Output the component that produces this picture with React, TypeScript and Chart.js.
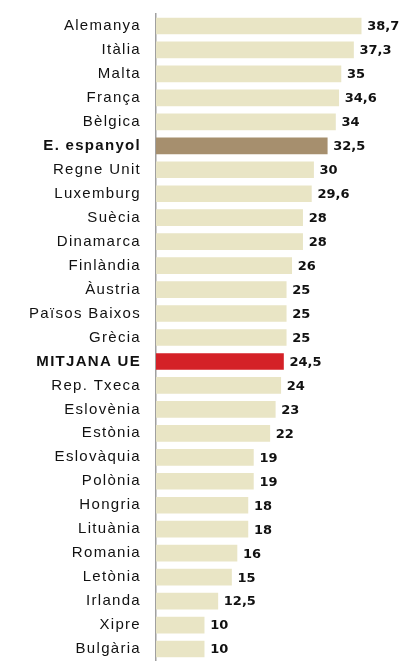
import React, { useEffect, useRef } from "react";
import { Chart, registerables } from "chart.js";

Chart.register(...registerables);

const categories = [
  "Alemanya", "Itàlia", "Malta", "França", "Bèlgica", "E. espanyol", "Regne Unit",
  "Luxemburg", "Suècia", "Dinamarca", "Finlàndia", "Àustria", "Països Baixos", "Grècia",
  "MITJANA UE", "Rep. Txeca", "Eslovènia", "Estònia", "Eslovàquia", "Polònia", "Hongria",
  "Lituània", "Romania", "Letònia", "Irlanda", "Xipre", "Bulgària",
];

const values = [
  38.7, 37.3, 35, 34.6, 34, 32.5, 30, 29.6, 28, 28, 26, 25, 25, 25,
  24.5, 24, 23, 22, 19, 19, 18, 18, 16, 15, 12.5, 10, 10,
];

const boldCategories = ["E. espanyol", "MITJANA UE"];

const BEIGE = "#e9e5c5";
const BROWN = "#a68f6e";
const RED = "#d42127";

function barColor(label: string): string {
  if (label === "MITJANA UE") return RED;
  if (label === "E. espanyol") return BROWN;
  return BEIGE;
}

const spacingPlugin = {
  id: "labelSpacing",
  beforeDraw(chart: any) {
    chart.ctx.letterSpacing = "1.3px";
  },
  beforeDatasetsDraw(chart: any) {
    chart.ctx.letterSpacing = "0px";
  },
};

const valueLabelPlugin = {
  id: "valueLabels",
  afterDatasetsDraw(chart: any) {
    const ctx = chart.ctx;
    const meta = chart.getDatasetMeta(0);
    ctx.save();
    ctx.letterSpacing = "0px";
    ctx.font = "bold 13px 'DejaVu Sans', sans-serif";
    ctx.fillStyle = "#111111";
    ctx.textAlign = "left";
    ctx.textBaseline = "middle";
    meta.data.forEach((bar: any, i: number) => {
      const txt = String(values[i]).replace(".", ",");
      ctx.fillText(txt, bar.x + 6, bar.y + 1);
    });
    ctx.restore();
  },
};

export default function App() {
  const canvasRef = useRef<HTMLCanvasElement | null>(null);

  useEffect(() => {
    document.body.style.margin = "0";
    const canvas = canvasRef.current;
    if (!canvas) return;
    const chart = new Chart(canvas, {
      type: "bar",
      data: {
        labels: categories,
        datasets: [
          {
            data: values,
            backgroundColor: categories.map(barColor),
            borderWidth: 0,
            barThickness: 16,
          },
        ],
      },
      options: {
        indexAxis: "y",
        responsive: false,
        animation: false,
        maintainAspectRatio: false,
        layout: { padding: { top: 14, bottom: 0, left: 0, right: 8 } },
        plugins: {
          legend: { display: false },
          tooltip: { enabled: false },
        },
        scales: {
          x: {
            display: false,
            min: 1.2,
            max: 44.7,
          },
          y: {
            afterFit(scale: any) {
              scale.width = 156;
              scale.paddingTop = 0;
              scale.paddingBottom = 0;
            },
            grid: { display: false, drawTicks: false },
            border: { display: true, color: "#a0a0a0", width: 1.5 },
            ticks: {
              padding: 15,
              color: "#111111",
              autoSkip: false,
              font: (ctx: any) => {
                const label = categories[ctx.index];
                return {
                  family: "'Liberation Sans', Arial, sans-serif",
                  size: 15,
                  weight: boldCategories.includes(label) ? "bold" : "normal",
                };
              },
            },
          },
        },
      },
      plugins: [spacingPlugin, valueLabelPlugin],
    } as any);
    return () => chart.destroy();
  }, []);

  return (
    <div style={{ width: 402, height: 661, background: "#ffffff" }}>
      <canvas ref={canvasRef} width={402} height={661} style={{ display: "block" }} />
    </div>
  );
}
